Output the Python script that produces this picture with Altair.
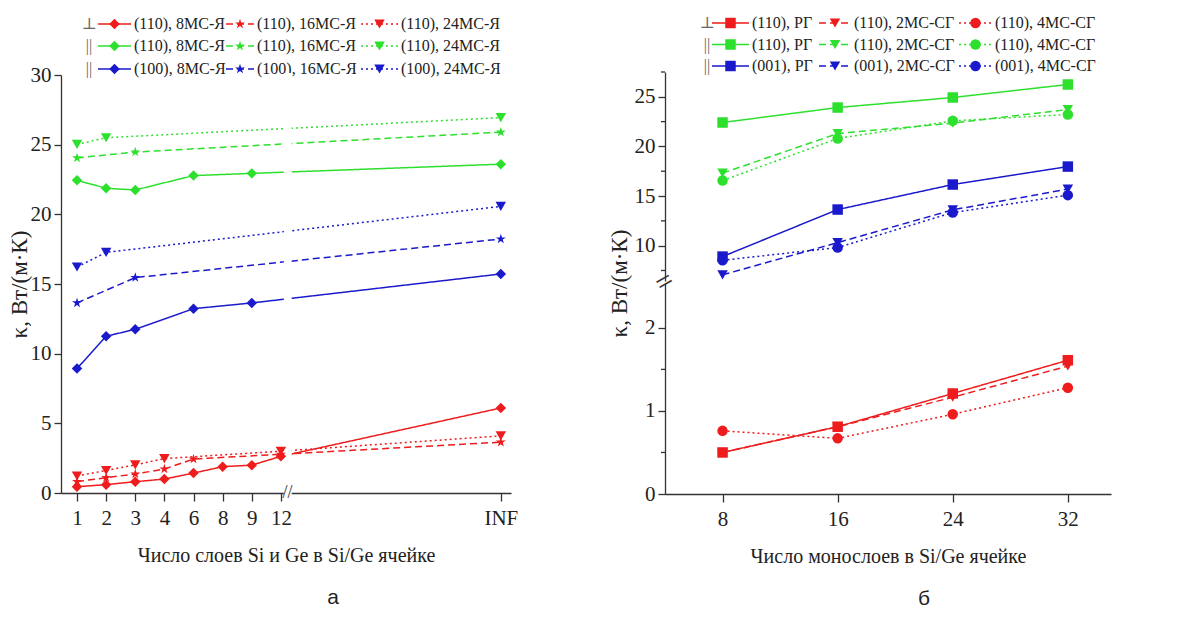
import altair as alt
import pandas as pd

SERIF = "'Liberation Serif', 'Times New Roman', 'DejaVu Serif', serif"
SANS = "'Liberation Sans', Arial, sans-serif"

# ---------------- panel а : values ----------------
a_x_labels = ["1", "2", "3", "4", "6", "8", "9", "12", "INF"]
a_red_8 = [0.45, 0.60, 0.81, 1.00, 1.43, 1.89, 2.00, 2.63, 6.10]
a_red_16 = [0.82, 1.10, 1.36, 1.72, 2.44, None, None, 2.78, 3.65]
a_red_24 = [1.22, 1.62, 2.02, 2.47, None, None, None, 3.00, 4.10]
a_grn_8 = [22.44, 21.87, 21.75, None, 22.78, None, 22.94, None, 23.60]
a_grn_16 = [24.05, None, 24.47, None, None, None, None, None, 25.90]
a_grn_24 = [25.02, 25.50, None, None, None, None, None, None, 26.94]
a_blu_8 = [8.93, 11.25, 11.75, None, 13.23, None, 13.64, None, 15.72]
a_blu_16 = [13.64, None, 15.46, None, None, None, None, None, 18.23]
a_blu_24 = [16.22, 17.27, None, None, None, None, None, None, 20.57]
a_y_ticks = [0, 5, 10, 15, 20, 25, 30]

# ---------------- panel б : values ----------------
b_x = [8, 16, 24, 32]
b_red_rg = [0.50, 0.81, 1.21, 1.61]
b_red_2 = [0.50, 0.81, 1.165, 1.54]
b_red_4 = [0.76, 0.67, 0.96, 1.28]
b_grn_rg = [22.41, 23.92, 24.93, 26.24]
b_grn_2 = [17.31, 21.30, 22.35, 23.72]
b_grn_4 = [16.56, 20.80, 22.58, 23.22]
b_blu_rg = [8.90, 13.64, 16.16, 17.97]
b_blu_2 = [7.06, 10.31, 13.61, 15.70]
b_blu_4 = [8.53, 9.81, 13.34, 15.09]
b_upper_ticks = [10, 15, 20, 25]
b_upper_minor = [7.5, 12.5, 17.5, 22.5, 27.5]
b_lower_ticks = [0, 1, 2]
b_lower_minor = [0.5, 1.5]

# ---------------- styles ----------------
STAR = ("M0,-1L0.2245,-0.309L0.951,-0.309L0.3633,0.118L0.588,0.809L0,0.382"
        "L-0.588,0.809L-0.3633,0.118L-0.951,-0.309L-0.2245,-0.309Z")
RED, GRN, BLU = "#ee1c1c", "#2ee02e", "#1a1acc"
SOLID, DASH, DOT = [1, 0], [7, 4], [2, 3]
SIZE = {"diamond": 110, STAR: 110, "triangle-down": 85, "square": 70, "circle": 70}

# key, values, color, dash, shape, legend row, legend col, label
a_series = [
    ("a_r8", a_red_8, RED, SOLID, "diamond", 0, 0, "(110), 8МС-Я"),
    ("a_r16", a_red_16, RED, DASH, STAR, 0, 1, "(110), 16МС-Я"),
    ("a_r24", a_red_24, RED, DOT, "triangle-down", 0, 2, "(110), 24МС-Я"),
    ("a_g8", a_grn_8, GRN, SOLID, "diamond", 1, 0, "(110), 8МС-Я"),
    ("a_g16", a_grn_16, GRN, DASH, STAR, 1, 1, "(110), 16МС-Я"),
    ("a_g24", a_grn_24, GRN, DOT, "triangle-down", 1, 2, "(110), 24МС-Я"),
    ("a_b8", a_blu_8, BLU, SOLID, "diamond", 2, 0, "(100), 8МС-Я"),
    ("a_b16", a_blu_16, BLU, DASH, STAR, 2, 1, "(100), 16МС-Я"),
    ("a_b24", a_blu_24, BLU, DOT, "triangle-down", 2, 2, "(100), 24МС-Я"),
]
b_series = [
    ("b_rrg", b_red_rg, RED, SOLID, "square", 0, 0, "(110), РГ"),
    ("b_r2", b_red_2, RED, DASH, "triangle-down", 0, 1, "(110), 2МС-СГ"),
    ("b_r4", b_red_4, RED, DOT, "circle", 0, 2, "(110), 4МС-СГ"),
    ("b_grg", b_grn_rg, GRN, SOLID, "square", 1, 0, "(110), РГ"),
    ("b_g2", b_grn_2, GRN, DASH, "triangle-down", 1, 1, "(110), 2МС-СГ"),
    ("b_g4", b_grn_4, GRN, DOT, "circle", 1, 2, "(110), 4МС-СГ"),
    ("b_brg", b_blu_rg, BLU, SOLID, "square", 2, 0, "(001), РГ"),
    ("b_b2", b_blu_2, BLU, DASH, "triangle-down", 2, 1, "(001), 2МС-СГ"),
    ("b_b4", b_blu_4, BLU, DOT, "circle", 2, 2, "(001), 4МС-СГ"),
]
prefixes = ["⊥", "||", "||"]

allS = a_series + b_series
keys = [s[0] for s in allS]
col_sc = alt.Scale(domain=keys, range=[s[2] for s in allS])
dash_sc = alt.Scale(domain=keys, range=[s[3] for s in allS])
shape_sc = alt.Scale(domain=keys, range=[s[4] for s in allS])
size_sc = alt.Scale(domain=keys, range=[SIZE[s[4]] for s in allS])
COLOR = alt.Color("s:N", scale=col_sc, legend=None)
DASHE = alt.StrokeDash("s:N", scale=dash_sc, legend=None)
SHAPE = alt.Shape("s:N", scale=shape_sc, legend=None)
SIZEE = alt.Size("s:N", scale=size_sc, legend=None)


def long_df(xs, series):
    rows = []
    for key, vals, *_ in series:
        for x, v in zip(xs, vals):
            if v is not None:
                rows.append({"x": x, "y": v, "s": key})
    return pd.DataFrame(rows)


def legend_chart(series, W, H, col_start, col_len, row_y, prefix_x):
    seg, txt = [], []
    for key, vals, c, d, sh, r, col, lab in series:
        x0 = col_start[col]
        x1 = x0 + col_len[col]
        seg.append({"s": key, "x0": x0, "x1": x1, "xm": (x0 + x1) / 2, "y": row_y[r]})
        txt.append({"t": lab, "x": x1 + 3, "y": row_y[r]})
    pre = [{"t": p, "x": prefix_x, "y": row_y[i]} for i, p in enumerate(prefixes)]
    xs = alt.Scale(domain=[0, W], range=[0, W])
    ys = alt.Scale(domain=[0, H], range=[0, H])
    sdf = pd.DataFrame(seg)
    rules = alt.Chart(sdf).mark_rule(strokeWidth=1.5).encode(
        x=alt.X("x0:Q", scale=xs, axis=None), x2="x1:Q",
        y=alt.Y("y:Q", scale=ys, axis=None), color=COLOR, strokeDash=DASHE)
    pts = alt.Chart(sdf).mark_point(filled=True, opacity=1).encode(
        x=alt.X("xm:Q", scale=xs, axis=None), y=alt.Y("y:Q", scale=ys, axis=None),
        color=COLOR, shape=SHAPE, size=SIZEE)
    labels = alt.Chart(pd.DataFrame(txt)).mark_text(
        align="left", baseline="middle", font=SERIF, fontSize=16, color="#222").encode(
        x=alt.X("x:Q", scale=xs, axis=None), y=alt.Y("y:Q", scale=ys, axis=None), text="t:N")
    pref = alt.Chart(pd.DataFrame(pre)).mark_text(
        align="center", baseline="middle", font=SERIF, fontSize=16, color="#666").encode(
        x=alt.X("x:Q", scale=xs, axis=None), y=alt.Y("y:Q", scale=ys, axis=None), text="t:N")
    return alt.layer(rules, pts, labels, pref).properties(width=W, height=H)


# ---------------- panel а chart ----------------
W_A, H_A = 450, 418
INF_POS = 15.55
a_pos = list(range(1, 9)) + [INF_POS]
label_expr = "".join(f"datum.value == {p} ? '{l}' : " for p, l in zip(a_pos, a_x_labels)) + "''"
xs_a = alt.Scale(domain=[0.45, 15.9], nice=False, zero=False)
ys_a = alt.Scale(domain=[0, 30], nice=False)
ax_xa = alt.Axis(values=a_pos, labelExpr=label_expr, title="Число слоев Si и Ge в Si/Ge ячейке",
                 grid=False, tickSize=8, labelPadding=6, titlePadding=17, labelFlush=False,
                 labelOverlap=False)
ax_ya = alt.Axis(values=a_y_ticks, title="κ, Вт/(м·К)", grid=False, tickSize=7, labelPadding=3,
                 titleX=-42, titleBaseline="middle", titleFontSize=23)
XA = alt.X("x:Q", scale=xs_a, axis=ax_xa)
YA = alt.Y("y:Q", scale=ys_a, axis=ax_ya)

df_a = long_df(a_pos, a_series)
lines_a = alt.Chart(df_a).mark_line(strokeWidth=1.5).encode(x=XA, y=YA, color=COLOR, strokeDash=DASHE)
pts_a = alt.Chart(df_a).mark_point(filled=True, opacity=1).encode(
    x=XA, y=YA, color=COLOR, shape=SHAPE, size=SIZEE)
gap = alt.Chart(pd.DataFrame({"x": [8.1], "x2": [8.37]})).mark_rect(color="white").encode(
    x=XA, x2="x2:Q", y=alt.value(-2), y2=alt.value(H_A + 3))
brk = alt.Chart(pd.DataFrame({"x": [8.23], "y": [0]})).mark_text(
    text="//", font=SERIF, fontSize=18, color="#333").encode(x=XA, y=YA)
plot_a = alt.layer(lines_a, gap, brk, pts_a).properties(
    width=W_A, height=H_A,
    title=alt.TitleParams("а", orient="bottom", font=SANS, fontSize=21, fontWeight="normal",
                          color="#222", dx=47, offset=22))

leg_a = legend_chart(a_series, W_A, 65, [37, 165, 300], [33, 28, 37], [16, 38, 61], 28)

# ---------------- panel б charts ----------------
W_B = 446
H_U, H_L = 209, 211
xs_b = alt.Scale(domain=[4, 35], nice=False, zero=False)
ys_u = alt.Scale(domain=[6.44, 27.5], nice=False, zero=False)
ys_l = alt.Scale(domain=[0, 2.54], nice=False)
ax_yu = alt.Axis(values=b_upper_ticks, title=None, grid=False, tickSize=7, labelPadding=3)
ax_yl = alt.Axis(values=b_lower_ticks, title="κ, Вт/(м·К)", grid=False, tickSize=7, labelPadding=3,
                 titleX=-46, titleY=0, titleBaseline="middle", titleAlign="center",
                 titleFontSize=23)
ax_xb = alt.Axis(values=b_x, title="Число монослоев в Si/Ge ячейке", grid=False, tickSize=8,
                 labelPadding=6, titlePadding=17)

df_b = long_df(b_x, b_series)
df_u = df_b[~df_b["s"].str.startswith("b_r")]
df_l = df_b[df_b["s"].str.startswith("b_r")]


def panel_b(df, ys, ax_y, minor, xaxis):
    X = alt.X("x:Q", scale=xs_b, axis=xaxis)
    Y = alt.Y("y:Q", scale=ys, axis=ax_y)
    ln = alt.Chart(df).mark_line(strokeWidth=1.5).encode(x=X, y=Y, color=COLOR, strokeDash=DASHE)
    pt = alt.Chart(df).mark_point(filled=True, opacity=1).encode(
        x=X, y=Y, color=COLOR, shape=SHAPE, size=SIZEE)
    mn = alt.Chart(pd.DataFrame({"y": minor})).mark_rule(color="#333", strokeWidth=1.3).encode(
        y=Y, x=alt.value(-4), x2=alt.value(0))
    return [ln, pt, mn]


upper = alt.layer(*panel_b(df_u, ys_u, ax_yu, b_upper_minor, None)).properties(width=W_B, height=H_U)
lower_layers = panel_b(df_l, ys_l, ax_yl, b_lower_minor, ax_xb)
brk_b = alt.Chart(pd.DataFrame({"y": [2.54]})).mark_text(
    text="=", font=SERIF, fontSize=30, angle=330, color="#333", dy=-1).encode(
    y=alt.Y("y:Q", scale=ys_l, axis=ax_yl), x=alt.value(0))
lower = alt.layer(*lower_layers, brk_b).properties(
    width=W_B, height=H_L,
    title=alt.TitleParams("б", orient="bottom", font=SANS, fontSize=21, fontWeight="normal",
                          color="#222", dx=36, offset=22))

leg_b = legend_chart(b_series, W_B, 62, [47, 154, 294], [37, 32, 33], [15, 36.5, 58], 42)

left_col = alt.vconcat(leg_a, plot_a, spacing=2, bounds="flush").resolve_scale(x="independent", y="independent")
right_col = alt.vconcat(leg_b, upper, lower, spacing=2, bounds="flush").resolve_scale(x="independent", y="independent")

chart = alt.hconcat(left_col, right_col, spacing=89).resolve_scale(
    x="independent", y="independent").properties(
    padding={"left": 0, "top": 0, "right": 5, "bottom": 5}, background="white"
).configure_view(stroke=None).configure_axis(
    labelFont=SERIF, labelFontSize=21, titleFont=SERIF, titleFontSize=20, titleFontWeight="normal",
    labelColor="#222", titleColor="#222", domainColor="#333", tickColor="#333",
    domainWidth=1.3, tickWidth=1.3)

chart.save("out.html", embed_options={"renderer": "svg", "actions": False})
